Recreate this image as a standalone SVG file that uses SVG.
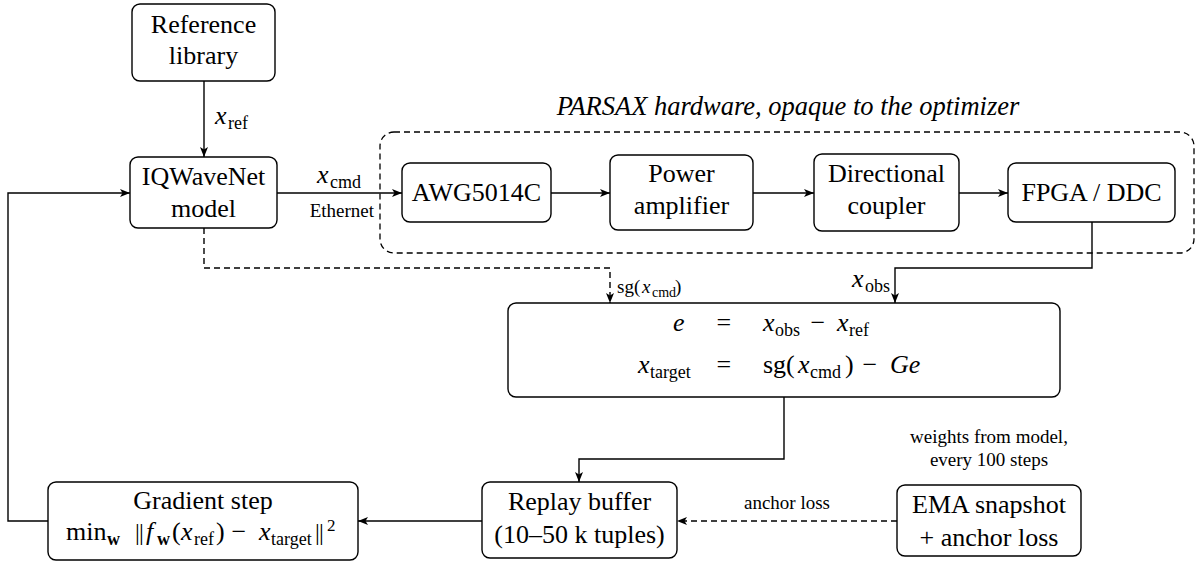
<svg xmlns="http://www.w3.org/2000/svg" width="1196" height="562" viewBox="0 0 1196 562" font-family="'Liberation Serif', 'DejaVu Serif', serif">
  <defs>
    <marker id="arrow" viewBox="0 0 10 8" refX="10" refY="4" markerWidth="10" markerHeight="8" orient="auto" markerUnits="userSpaceOnUse">
      <path d="M0,0 L10,4 L0,8 L2.5,4 z" fill="#000"/>
    </marker>
    <style>
      .box { fill: #fff; stroke: #000; stroke-width: 1.4; }
      .frame { fill: none; stroke: #000; stroke-width: 1.3; stroke-dasharray: 6 4; }
      .wire { fill: none; stroke: #000; stroke-width: 1.4; }
      .dash { stroke-dasharray: 6 4; }
      text { font-family: "Liberation Serif", "DejaVu Serif", serif; fill: #000; }
      .lbl { font-size: 26px; text-anchor: middle; }
      .sm { font-size: 19px; }
      .it { font-style: italic; }
      .sub { font-size: 18px; }
      .ssub { font-size: 14px; }
      .bf { font-weight: bold; }
      .bar { font-size: 24px; }
    </style>
  </defs>

  <!-- hardware enclosure -->
  <g id="hardware">
    <rect class="frame" x="380" y="132" width="814" height="121" rx="14"/>
    <text class="lbl it" x="788" y="115" style="font-size:26.5px">PARSAX hardware, opaque to the optimizer</text>
  </g>

  <g id="connectors">
    <path class="wire" d="M204,81 V157" marker-end="url(#arrow)"/>
    <path class="wire" d="M277,193 H402" marker-end="url(#arrow)"/>
    <path class="wire" d="M551,193 H610" marker-end="url(#arrow)"/>
    <path class="wire" d="M753,193 H814" marker-end="url(#arrow)"/>
    <path class="wire" d="M959,193 H1008" marker-end="url(#arrow)"/>
    <path class="wire" d="M1092,222 V268 H895 V303" marker-end="url(#arrow)"/>
    <path class="wire dash" d="M204,228 V268 H610 V303" marker-end="url(#arrow)"/>
    <path class="wire" d="M784,397 V459 H579 V482" marker-end="url(#arrow)"/>
    <path class="wire" d="M482,521 H358" marker-end="url(#arrow)"/>
    <path class="wire" d="M48,521 H8 V193 H130" marker-end="url(#arrow)"/>
    <path class="wire dash" d="M897,521 H677" marker-end="url(#arrow)"/>

    <!-- edge labels -->
    <text><tspan class="it" x="215" y="124" font-size="26">x</tspan><tspan class="sub" x="228" y="129">ref</tspan></text>
    <text><tspan class="it" x="317" y="183" font-size="26">x</tspan><tspan class="sub" x="330" y="188">cmd</tspan></text>
    <text class="sm" x="374" y="217" text-anchor="end">Ethernet</text>
    <text><tspan class="it" x="852" y="287" font-size="26">x</tspan><tspan class="sub" x="865" y="292">obs</tspan></text>
    <text class="sm"><tspan x="617" y="293">sg(</tspan><tspan class="it" x="642" y="293">x</tspan><tspan class="ssub" x="652" y="297">cmd</tspan><tspan x="675" y="293">)</tspan></text>
    <text class="sm" x="787" y="509" text-anchor="middle">anchor loss</text>
    <text class="sm" x="989" y="443" text-anchor="middle">weights from model,</text>
    <text class="sm" x="989" y="466" text-anchor="middle">every 100 steps</text>
  </g>

  <g id="reference-library">
    <rect class="box" x="132" y="4" width="143" height="77" rx="8"/>
    <text class="lbl" x="203.5" y="33">Reference</text>
    <text class="lbl" x="203.5" y="64">library</text>
  </g>

  <g id="iqwavenet">
    <rect class="box" x="130" y="157" width="147" height="71" rx="8"/>
    <text class="lbl" x="203.5" y="185">IQWaveNet</text>
    <text class="lbl" x="203.5" y="217">model</text>
  </g>

  <g id="awg">
    <rect class="box" x="402" y="163" width="149" height="59" rx="8"/>
    <text class="lbl" x="476.5" y="201">AWG5014C</text>
  </g>

  <g id="power-amplifier">
    <rect class="box" x="610" y="155" width="143" height="75" rx="8"/>
    <text class="lbl" x="681.5" y="182">Power</text>
    <text class="lbl" x="681.5" y="214">amplifier</text>
  </g>

  <g id="directional-coupler">
    <rect class="box" x="814" y="154" width="145" height="77" rx="8"/>
    <text class="lbl" x="886.5" y="182">Directional</text>
    <text class="lbl" x="886.5" y="214">coupler</text>
  </g>

  <g id="fpga-ddc">
    <rect class="box" x="1008" y="163" width="167" height="59" rx="8"/>
    <text class="lbl" x="1091.5" y="201">FPGA / DDC</text>
  </g>

  <!-- e = x_obs - x_ref ; x_target = sg(x_cmd) - Ge, aligned on "=" -->
  <g id="error-target">
    <rect class="box" x="508" y="303" width="552" height="94" rx="8"/>
    <text font-size="26">
      <tspan class="it" x="691" y="331" text-anchor="end">e</tspan>
      <tspan x="727" y="331" text-anchor="middle">=</tspan>
      <tspan class="it" x="763" y="331">x</tspan><tspan class="sub" x="775" y="336">obs</tspan>
      <tspan x="821" y="331" text-anchor="middle">−</tspan>
      <tspan class="it" x="837" y="331">x</tspan><tspan class="sub" x="849" y="336">ref</tspan>
    </text>
    <text font-size="26">
      <tspan class="it" x="638" y="373">x</tspan><tspan class="sub" x="650" y="378">target</tspan>
      <tspan x="727" y="373" text-anchor="middle">=</tspan>
      <tspan x="763" y="373">sg(</tspan><tspan class="it" x="798" y="373">x</tspan><tspan class="sub" x="810" y="378">cmd</tspan><tspan x="845" y="373">)</tspan>
      <tspan x="873" y="373" text-anchor="middle">−</tspan>
      <tspan class="it" x="890" y="373">Ge</tspan>
    </text>
  </g>

  <g id="replay-buffer">
    <rect class="box" x="482" y="482" width="195" height="76" rx="8"/>
    <text class="lbl" x="579.5" y="510">Replay buffer</text>
    <text class="lbl" x="579.5" y="543">(10–50 k tuples)</text>
  </g>

  <!-- min_w ||f_w(x_ref) - x_target||^2 -->
  <g id="gradient-step">
    <rect class="box" x="48" y="482" width="310" height="78" rx="8"/>
    <text class="lbl" x="203" y="509">Gradient step</text>
    <text font-size="26">
      <tspan x="66" y="540">min</tspan><tspan class="sub bf" x="107" y="545">w</tspan>
      <tspan class="bar" x="135" y="540">|</tspan><tspan class="bar" x="139" y="540">|</tspan>
      <tspan class="it" x="146" y="540">f</tspan><tspan class="sub bf" x="157" y="545">w</tspan>
      <tspan x="172" y="540">(</tspan><tspan class="it" x="181" y="540">x</tspan><tspan class="sub" x="194" y="545">ref</tspan><tspan x="216" y="540">)</tspan>
      <tspan x="242" y="540" text-anchor="middle">−</tspan>
      <tspan class="it" x="259" y="540">x</tspan><tspan class="sub" x="271" y="545">target</tspan>
      <tspan class="bar" x="315" y="540">|</tspan><tspan class="bar" x="319" y="540">|</tspan><tspan font-size="17" x="327" y="531">2</tspan>
    </text>
  </g>

  <g id="ema-snapshot">
    <rect class="box" x="897" y="485" width="184" height="71" rx="8"/>
    <text class="lbl" x="989" y="513">EMA snapshot</text>
    <text class="lbl" x="989" y="546">+ anchor loss</text>
  </g>
</svg>
